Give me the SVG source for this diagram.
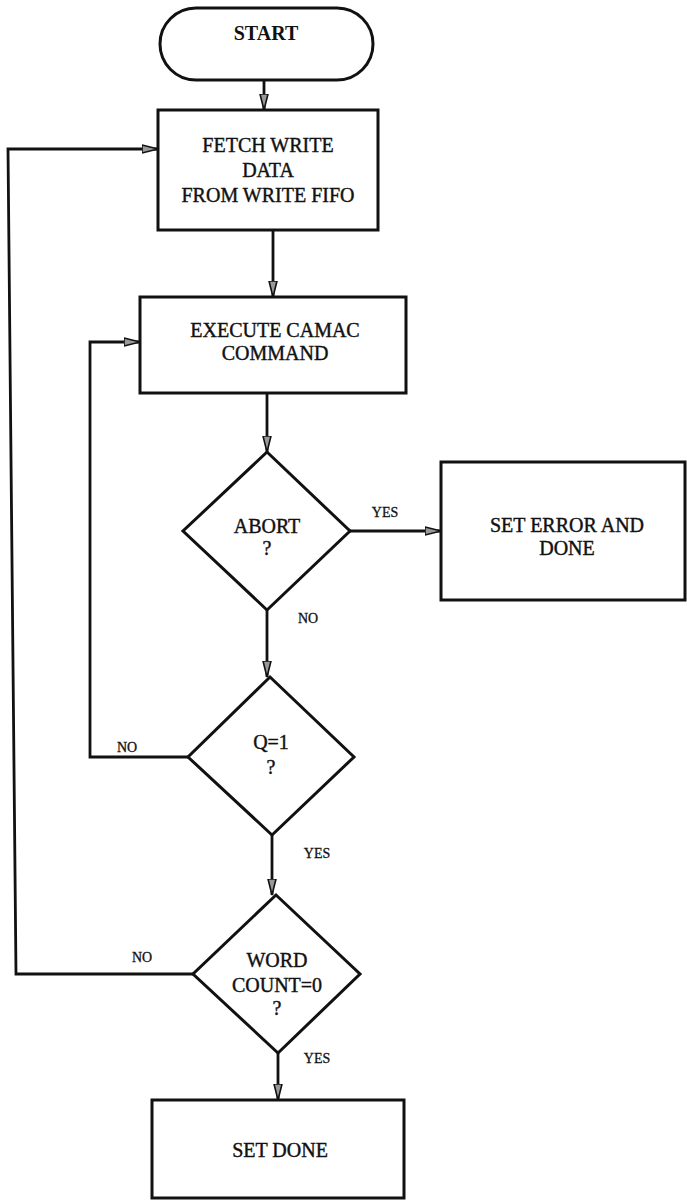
<svg xmlns="http://www.w3.org/2000/svg" width="687" height="1201" viewBox="0 0 687 1201">
<style>
.shape{fill:#fff;stroke:#111;stroke-width:3}
.conn{fill:none;stroke:#111;stroke-width:2.8}
.t{font-family:"Liberation Serif",serif;font-size:20px;fill:#111;stroke:#111;stroke-width:0.4;text-anchor:middle}
.b{font-weight:bold;stroke-width:0}
.lbl{font-family:"Liberation Serif",serif;font-size:14px;fill:#111;stroke:#111;stroke-width:0.3;text-anchor:middle}
</style>
<defs>
<marker id="ah" markerUnits="userSpaceOnUse" markerWidth="18" markerHeight="12" refX="16" refY="5" orient="auto" viewBox="0 0 18 10">
<path d="M0,1 L16,5 L0,9 z" fill="#999" stroke="#111" stroke-width="1.6"/>
</marker>
</defs>
<rect width="687" height="1201" fill="#fff"/>
<g id="connectors">
<path class="conn" d="M264,80 V110" marker-end="url(#ah)"/>
<path class="conn" d="M273,230 V297" marker-end="url(#ah)"/>
<path class="conn" d="M267,393 V452" marker-end="url(#ah)"/>
<path class="conn" d="M350,531 H441" marker-end="url(#ah)"/>
<path class="conn" d="M267,610 V677" marker-end="url(#ah)"/>
<path class="conn" d="M188,757 H90 V342 H140" marker-end="url(#ah)"/>
<path class="conn" d="M272,835 V895" marker-end="url(#ah)"/>
<path class="conn" d="M193,974 H16 L8,149 H158" marker-end="url(#ah)"/>
<path class="conn" d="M278,1053 V1100" marker-end="url(#ah)"/>
<text class="lbl" x="385" y="517">YES</text>
<text class="lbl" x="308" y="623">NO</text>
<text class="lbl" x="127" y="752">NO</text>
<text class="lbl" x="317" y="858">YES</text>
<text class="lbl" x="142" y="962">NO</text>
<text class="lbl" x="317" y="1063">YES</text>
</g>
<g id="start">
<rect class="shape" x="160" y="8" width="213" height="72" rx="36" ry="36"/>
<text class="t b" x="266" y="40">START</text>
</g>
<g id="fetch">
<rect class="shape" x="158" y="110" width="220" height="120"/>
<text class="t" x="268" y="152">FETCH WRITE</text>
<text class="t" x="268" y="177">DATA</text>
<text class="t" x="268" y="202">FROM WRITE FIFO</text>
</g>
<g id="execute">
<rect class="shape" x="140" y="297" width="266" height="96"/>
<text class="t" x="275" y="337">EXECUTE CAMAC</text>
<text class="t" x="275" y="360">COMMAND</text>
</g>
<g id="abort">
<polygon class="shape" points="267,452 350,531 267,610 183,531"/>
<text class="t" x="267" y="533">ABORT</text>
<text class="t" x="267" y="555">?</text>
</g>
<g id="seterror">
<rect class="shape" x="441" y="462" width="244" height="138"/>
<text class="t" x="567" y="532">SET ERROR AND</text>
<text class="t" x="567" y="555">DONE</text>
</g>
<g id="q1">
<polygon class="shape" points="270,677 354,757 272,835 188,757"/>
<text class="t" x="271" y="749">Q=1</text>
<text class="t" x="271" y="774">?</text>
</g>
<g id="wordcount">
<polygon class="shape" points="276,895 360,974 278,1053 193,974"/>
<text class="t" x="277" y="967">WORD</text>
<text class="t" x="277" y="992">COUNT=0</text>
<text class="t" x="277" y="1015">?</text>
</g>
<g id="setdone">
<rect class="shape" x="152" y="1100" width="252" height="98"/>
<text class="t" x="280" y="1157">SET DONE</text>
</g>
</svg>
